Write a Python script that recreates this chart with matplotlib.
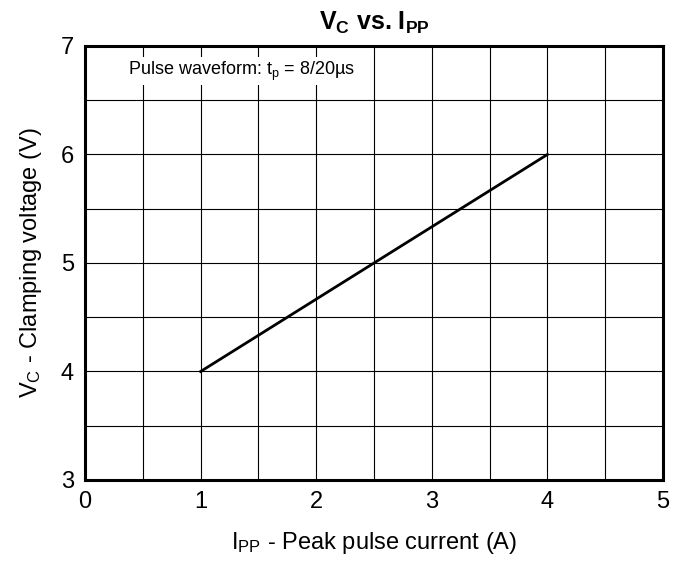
import numpy as np
import matplotlib
matplotlib.use("Agg")
from matplotlib import pyplot as plt

plt.rcParams['font.family'] = ['Liberation Sans', 'DejaVu Sans']
plt.rcParams['mathtext.fontset'] = 'custom'
plt.rcParams['mathtext.rm'] = 'Liberation Sans'
plt.rcParams['mathtext.it'] = 'Liberation Sans'
plt.rcParams['mathtext.bf'] = 'Liberation Sans:bold'

# data
ipp = [1, 4]
vc = [4, 6]
x_ticks = [0, 1, 2, 3, 4, 5]
y_ticks = [3, 4, 5, 6, 7]

fig = plt.figure(figsize=(6.74, 5.70), dpi=100)
ax = fig.add_axes([0.1261, 0.1579, 0.8576, 0.7614])

ax.plot(ipp, vc, color='black', linewidth=2, zorder=3)

ax.set_xlim(0, 5)
ax.set_ylim(3, 7)
ax.set_xticks(x_ticks)
ax.set_yticks(y_ticks)
ax.set_xticks(np.arange(0, 5.01, 0.5), minor=True)
ax.set_yticks(np.arange(3, 7.01, 0.5), minor=True)
ax.grid(which='both', color='black', linewidth=0.8)
ax.tick_params(which='both', length=0, labelsize=17, pad=8)
for s in ax.spines.values():
    s.set_linewidth(2.2)

ax.set_xlabel(r'I$_{\rm PP}$ - Peak pulse current (A)', fontsize=17, labelpad=12)
ax.set_ylabel(r'V$_{\rm C}$ - Clamping voltage (V)', fontsize=17, labelpad=12)
ax.set_title(r'$\mathbf{V_C}$ vs. $\mathbf{I_{PP}}$', fontsize=18, fontweight='bold', pad=12)

ax.text(0.37, 6.77, r'Pulse waveform: t$_{\rm p}$ = 8/20µs', fontsize=13,
        va='center', ha='left',
        bbox=dict(facecolor='white', edgecolor='none', pad=2))

fig.savefig('out.png', dpi=100)
